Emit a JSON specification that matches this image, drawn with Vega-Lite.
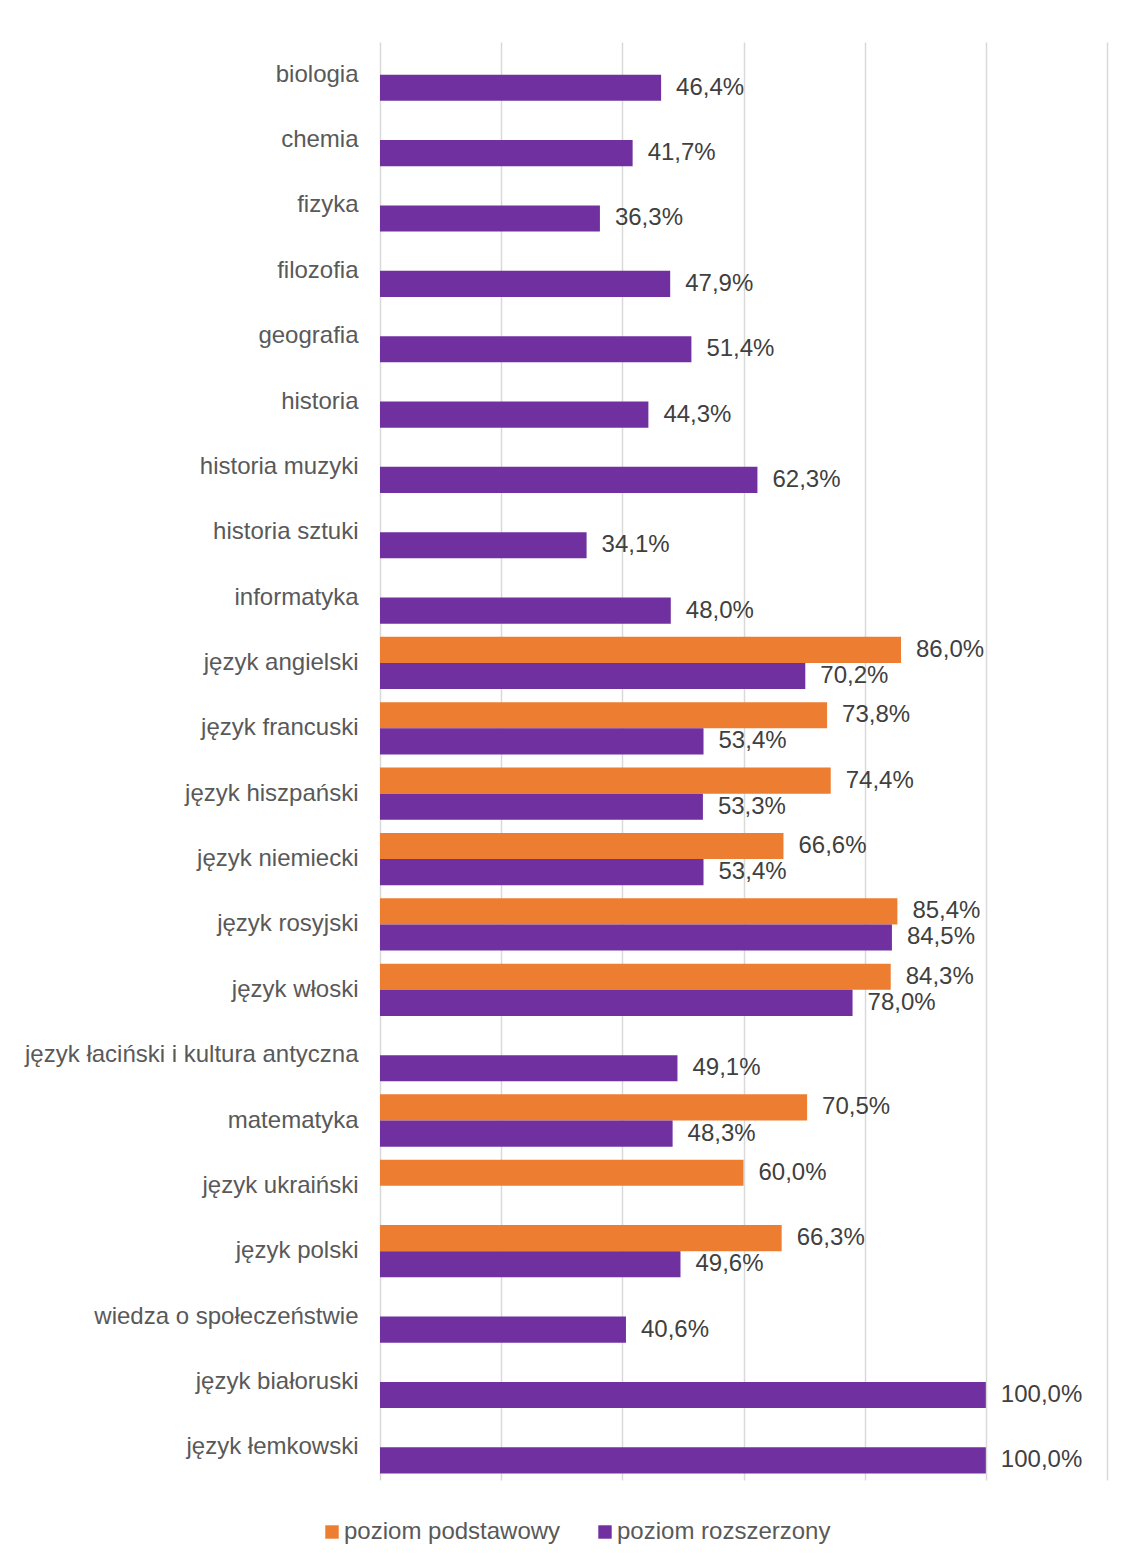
{
  "$schema": "https://vega.github.io/schema/vega-lite/v6.json",
  "autosize": "none",
  "width": 727,
  "height": 1438,
  "padding": {"left": 380, "top": 42, "right": 16, "bottom": 81},
  "background": "white",
  "config": {
    "view": {"stroke": null},
    "font": "Liberation Sans",
    "locale": {"number": {"decimal": ",", "thousands": " ", "grouping": [3], "currency": ["", " zł"]}}
  },
  "data": {
    "values": [
      {"przedmiot": "biologia", "poziom": "poziom rozszerzony", "wynik": 0.464},
      {"przedmiot": "chemia", "poziom": "poziom rozszerzony", "wynik": 0.417},
      {"przedmiot": "fizyka", "poziom": "poziom rozszerzony", "wynik": 0.363},
      {"przedmiot": "filozofia", "poziom": "poziom rozszerzony", "wynik": 0.479},
      {"przedmiot": "geografia", "poziom": "poziom rozszerzony", "wynik": 0.514},
      {"przedmiot": "historia", "poziom": "poziom rozszerzony", "wynik": 0.443},
      {"przedmiot": "historia muzyki", "poziom": "poziom rozszerzony", "wynik": 0.623},
      {"przedmiot": "historia sztuki", "poziom": "poziom rozszerzony", "wynik": 0.341},
      {"przedmiot": "informatyka", "poziom": "poziom rozszerzony", "wynik": 0.480},
      {"przedmiot": "język angielski", "poziom": "poziom podstawowy", "wynik": 0.860},
      {"przedmiot": "język angielski", "poziom": "poziom rozszerzony", "wynik": 0.702},
      {"przedmiot": "język francuski", "poziom": "poziom podstawowy", "wynik": 0.738},
      {"przedmiot": "język francuski", "poziom": "poziom rozszerzony", "wynik": 0.534},
      {"przedmiot": "język hiszpański", "poziom": "poziom podstawowy", "wynik": 0.744},
      {"przedmiot": "język hiszpański", "poziom": "poziom rozszerzony", "wynik": 0.533},
      {"przedmiot": "język niemiecki", "poziom": "poziom podstawowy", "wynik": 0.666},
      {"przedmiot": "język niemiecki", "poziom": "poziom rozszerzony", "wynik": 0.534},
      {"przedmiot": "język rosyjski", "poziom": "poziom podstawowy", "wynik": 0.854},
      {"przedmiot": "język rosyjski", "poziom": "poziom rozszerzony", "wynik": 0.845},
      {"przedmiot": "język włoski", "poziom": "poziom podstawowy", "wynik": 0.843},
      {"przedmiot": "język włoski", "poziom": "poziom rozszerzony", "wynik": 0.780},
      {"przedmiot": "język łaciński i kultura antyczna", "poziom": "poziom rozszerzony", "wynik": 0.491},
      {"przedmiot": "matematyka", "poziom": "poziom podstawowy", "wynik": 0.705},
      {"przedmiot": "matematyka", "poziom": "poziom rozszerzony", "wynik": 0.483},
      {"przedmiot": "język ukraiński", "poziom": "poziom podstawowy", "wynik": 0.600},
      {"przedmiot": "język polski", "poziom": "poziom podstawowy", "wynik": 0.663},
      {"przedmiot": "język polski", "poziom": "poziom rozszerzony", "wynik": 0.496},
      {"przedmiot": "wiedza o społeczeństwie", "poziom": "poziom rozszerzony", "wynik": 0.406},
      {"przedmiot": "język białoruski", "poziom": "poziom rozszerzony", "wynik": 1.000},
      {"przedmiot": "język łemkowski", "poziom": "poziom rozszerzony", "wynik": 1.000}
    ]
  },
  "encoding": {
    "y": {
      "field": "przedmiot",
      "type": "nominal",
      "sort": null,
      "scale": {"paddingInner": 0.2, "paddingOuter": 0.1},
      "axis": {
        "title": null,
        "ticks": false,
        "domain": false,
        "labelPadding": 22,
        "labelFontSize": 24,
        "labelColor": "#595959",
        "labelLimit": 0,
        "labelFont": "Liberation Sans"
      }
    },
    "yOffset": {
      "field": "poziom",
      "type": "nominal",
      "scale": {"domain": ["poziom podstawowy", "poziom rozszerzony"], "paddingInner": 0, "paddingOuter": 0}
    },
    "x": {
      "field": "wynik",
      "type": "quantitative",
      "scale": {"domain": [0, 1.2], "nice": false},
      "axis": {
        "title": null,
        "labels": false,
        "ticks": false,
        "domain": false,
        "grid": true,
        "values": [0, 0.2, 0.4, 0.6, 0.8, 1.0, 1.2],
        "gridColor": "#d9d9d9",
        "gridWidth": 1.5
      }
    }
  },
  "layer": [
    {
      "mark": {"type": "bar"},
      "encoding": {
        "color": {
          "field": "poziom",
          "type": "nominal",
          "scale": {"domain": ["poziom podstawowy", "poziom rozszerzony"], "range": ["#ED7D31", "#7030A0"]},
          "legend": {
            "title": null,
            "orient": "none",
            "direction": "horizontal",
            "legendX": -60,
            "legendY": 1478,
            "symbolType": "square",
            "symbolSize": 180,
            "symbolStrokeWidth": 0,
            "labelFontSize": 24,
            "labelColor": "#595959",
            "labelLimit": 0,
            "labelOffset": 0,
            "columnPadding": 32,
            "labelFont": "Liberation Sans"
          }
        }
      }
    },
    {
      "mark": {"type": "text", "align": "left", "baseline": "middle", "dx": 15, "fontSize": 24, "color": "#404040", "font": "Liberation Sans"},
      "encoding": {
        "text": {"field": "wynik", "type": "quantitative", "format": ".1%"}
      }
    }
  ]
}
